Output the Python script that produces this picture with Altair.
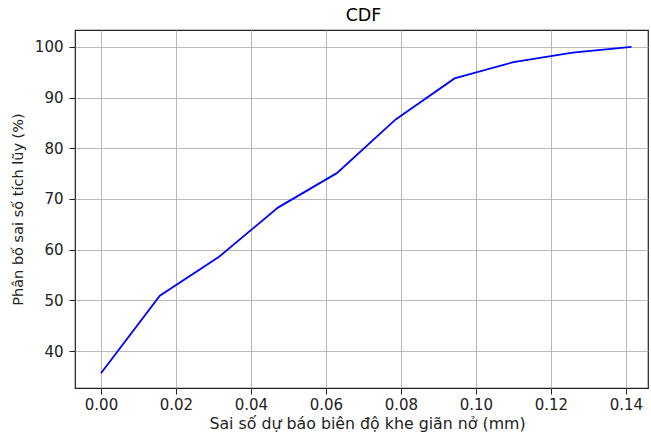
import altair as alt
import pandas as pd

errors_mm = [0.0, 0.0157, 0.0315, 0.0472, 0.0629, 0.0786, 0.0943, 0.1100, 0.1258, 0.1415]
cdf_pct = [35.6, 50.9, 58.6, 68.3, 75.1, 85.7, 93.8, 97.0, 98.9, 100.0]
x_ticks = [0.00, 0.02, 0.04, 0.06, 0.08, 0.10, 0.12, 0.14]
y_ticks = [40, 50, 60, 70, 80, 90, 100]

df = pd.DataFrame({"x": errors_mm, "y": cdf_pct})

font = "DejaVu Sans"

chart = alt.Chart(df).mark_line(color="#0000ff", strokeWidth=1.8).encode(
    x=alt.X("x:Q", scale=alt.Scale(domain=[-0.00693, 0.1459], nice=False, zero=False),
            axis=alt.Axis(values=x_ticks, format=".2f", title="Sai số dự báo biên độ khe giãn nở (mm)",
                          titlePadding=4, titleX=292)),
    y=alt.Y("y:Q", scale=alt.Scale(domain=[32.7, 103.35], nice=False, zero=False),
            axis=alt.Axis(values=y_ticks, format="d", title="Phân bố sai số tích lũy (%)",
                          titlePadding=9, titleFontSize=14.5, labelPadding=6)),
).properties(
    width=573, height=358,
    title=alt.TitleParams("CDF", font=font, fontSize=17.5, fontWeight="normal", color="#000000", offset=6, dx=2),
    autosize=alt.AutoSizeParams(type="none"),
    padding={"left": 75, "top": 30, "right": 3, "bottom": 48},
).configure_view(
    stroke="#222222", strokeWidth=1.2
).configure_axis(
    labelFont=font, titleFont=font, labelFontSize=15, titleFontSize=15.8,
    labelColor="#222222", titleColor="#222222", titleFontWeight="normal",
    grid=True, gridColor="#b8b8b8", gridWidth=1,
    domain=False, tickColor="#222222", tickSize=6, labelPadding=3,
)

chart.save("out.html", embed_options={"renderer": "svg", "actions": False})
